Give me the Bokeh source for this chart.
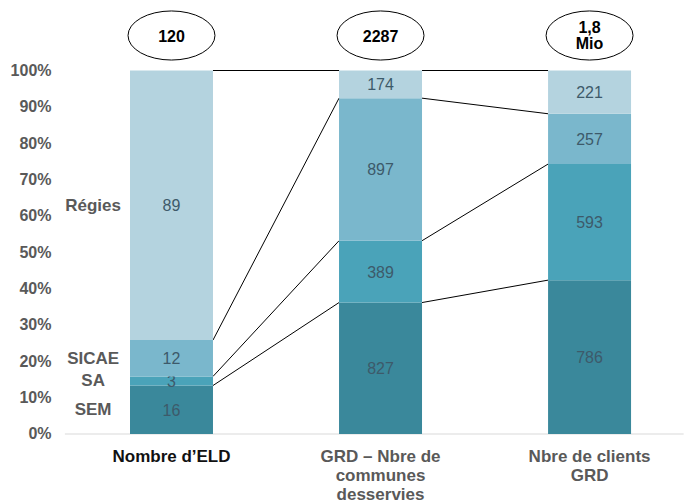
from bokeh.plotting import figure
from bokeh.models import Range1d, FixedTicker, NumeralTickFormatter, ColumnDataSource
from bokeh.core.properties import value
from bokeh.embed import file_html
from bokeh.resources import INLINE

# --- data -------------------------------------------------------------
categories = ["Nombre d\u2019ELD", "GRD \u2013 Nbre de\ncommunes\ndesservies", "Nbre de clients\nGRD"]
totals = ["120", "2287", "1,8\nMio"]
segments = ["SEM", "SA", "SICAE", "R\u00e9gies"]
sem = [16, 827, 786]
sa = [3, 389, 593]
sicae = [12, 897, 257]
regies = [89, 174, 221]
y_ticks = [0.0, 0.1, 0.2, 0.3, 0.4, 0.5, 0.6, 0.7, 0.8, 0.9, 1.0]

colors = ["#3a889b", "#4aa3b9", "#7ab7cc", "#b4d3df"]
FONT = "Liberation Sans"

series = [sem, sa, sicae, regies]
n = len(categories)
xs = list(range(n))
bar_w = 0.397

# cumulative shares per bar
sums = [sum(s[i] for s in series) for i in xs]
bottoms, tops = [], []
acc = [0.0] * n
for s in series:
    b = acc[:]
    t = [acc[i] + s[i] / sums[i] for i in xs]
    bottoms.append(b)
    tops.append(t)
    acc = t

p = figure(width=685, height=504, output_backend="svg", toolbar_location=None,
           x_range=Range1d(-0.531, 2.459), y_range=Range1d(-0.194, 1.1926),
           min_border_left=60, min_border_right=0, min_border_top=0, min_border_bottom=0)
p.outline_line_color = None
p.grid.visible = False
p.xaxis.visible = False
p.background_fill_color = "white"

yax = p.yaxis[0]
yax.ticker = FixedTicker(ticks=y_ticks)
yax.formatter = NumeralTickFormatter(format="0%")
yax.axis_line_color = None
yax.major_tick_line_color = None
yax.minor_tick_line_color = None
yax.major_label_standoff = 3
yax.major_label_text_font = FONT
yax.major_label_text_font_style = "bold"
yax.major_label_text_font_size = "16px"
yax.major_label_text_color = "#595959"

# baseline
p.segment(x0=[-0.51], y0=[0], x1=[2.45], y1=[0], line_color="#d9d9d9", line_width=1.2)

# connector lines between adjacent bars
cx0, cy0, cx1, cy1 = [], [], [], []
for i in range(n - 1):
    for k in range(len(series)):
        cx0.append(xs[i] + bar_w / 2)
        cy0.append(tops[k][i])
        cx1.append(xs[i + 1] - bar_w / 2)
        cy1.append(tops[k][i + 1])
p.segment(x0=cx0, y0=cy0, x1=cx1, y1=cy1, line_color="black", line_width=1)

# stacked bars with value labels
for k, s in enumerate(series):
    src = ColumnDataSource(dict(x=xs, bottom=bottoms[k], top=tops[k],
                                mid=[(bottoms[k][i] + tops[k][i]) / 2 for i in xs],
                                label=[str(v) for v in s]))
    p.vbar(x="x", bottom="bottom", top="top", width=bar_w, source=src,
           fill_color=colors[k], line_color=None)
    p.text(x="x", y="mid", text="label", source=src, text_align="center",
           text_baseline="middle", text_font=value(FONT), text_font_size="16px",
           text_color="#3d5a6a")

# segment names beside the first bar
p.text(x=[xs[0] - 0.375] * len(segments),
       y=[(bottoms[k][0] + tops[k][0]) / 2 for k in range(len(segments))],
       text=segments, text_align="center", text_baseline="middle",
       text_font=value(FONT), text_font_style="bold", text_font_size="17px",
       text_color="#595959")

# category labels under the bars
cat_colors = ["#111111", "#595959", "#595959"]
p.text(x=xs, y=[-0.036] * n, text=categories, text_color=cat_colors,
       text_align="center", text_baseline="top", text_font=value(FONT),
       text_font_style="bold", text_font_size="17px", text_line_height=1.0)

# totals in ellipses above the bars
p.ellipse(x=xs, y=[1.0963] * n, width=0.416, height=0.135, fill_color="white",
          line_color="black", line_width=1)
p.text(x=xs, y=[1.0963] * n, text=totals, text_align="center", text_baseline="middle",
       text_font=value(FONT), text_font_style="bold", text_font_size="16px",
       text_color="black", text_line_height=0.95)

open("out.html", "w").write(file_html(p, INLINE))
